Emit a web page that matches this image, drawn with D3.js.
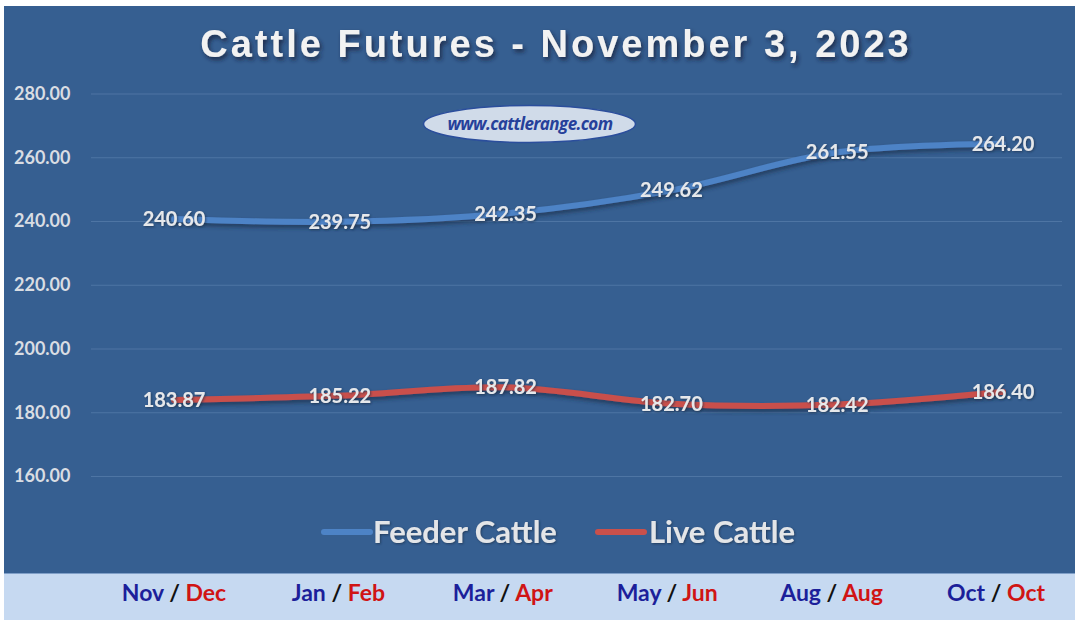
<!DOCTYPE html>
<html><head><meta charset="utf-8">
<script src="https://cdn.jsdelivr.net/npm/d3@7"></script>
<style>
html,body{margin:0;padding:0;background:#fff;}
svg{display:block;}
</style></head>
<body>
<svg id="chart" width="1078" height="620"></svg>
<script>
const categoriesA = ["Nov","Jan","Mar","May","Aug","Oct"];
const categoriesB = ["Dec","Feb","Apr","Jun","Aug","Oct"];
const feederCattle = [240.60, 239.75, 242.35, 249.62, 261.55, 264.20];
const liveCattle = [183.87, 185.22, 187.82, 182.70, 182.42, 186.40];
const yTicks = [160, 180, 200, 220, 240, 260, 280];
const title = "Cattle Futures - November 3, 2023";
const seriesNames = ["Feeder Cattle", "Live Cattle"];

const svg = d3.select("#chart");
const defs = svg.append("defs");
const sh = defs.append("filter").attr("id","lshadow").attr("x","-10%").attr("y","-50%").attr("width","120%").attr("height","200%");
sh.append("feDropShadow").attr("dx",1).attr("dy",3).attr("stdDeviation",2).attr("flood-color","#1a2e48").attr("flood-opacity",0.7);
const tsh = defs.append("filter").attr("id","tshadow").attr("x","-10%").attr("y","-30%").attr("width","120%").attr("height","160%");
tsh.append("feDropShadow").attr("dx",2).attr("dy",3).attr("stdDeviation",2).attr("flood-color","#14243a").attr("flood-opacity",0.8);
const dsh = defs.append("filter").attr("id","dshadow").attr("x","-10%").attr("y","-30%").attr("width","120%").attr("height","160%");
dsh.append("feDropShadow").attr("dx",1).attr("dy",1).attr("stdDeviation",1).attr("flood-color","#1a2e48").attr("flood-opacity",0.7);

// panels
svg.append("rect").attr("x",4).attr("y",6).attr("width",1071).attr("height",567).attr("fill","#365f91");
svg.append("rect").attr("x",4).attr("y",573).attr("width",1071).attr("height",47).attr("fill","#c6d9f1");
svg.append("line").attr("x1",4).attr("x2",1075).attr("y1",573.5).attr("y2",573.5).attr("stroke","#7f9fc8").attr("stroke-width",1);

const x = d3.scalePoint().domain(d3.range(categoriesA.length)).range([174, 1003]);
const y = d3.scaleLinear().domain([160, 280]).range([476, 93.5]);

// gridlines + y labels
const yAxis = d3.axisLeft(y).tickValues(yTicks).tickSize(-(1062-91)).tickFormat(d3.format(".2f")).tickPadding(18);
const gy = svg.append("g").attr("transform","translate(91,0)").call(yAxis);
gy.select(".domain").remove();
gy.selectAll(".tick line").attr("stroke","#4e75a4").attr("stroke-width",1.2);
gy.selectAll(".tick text").attr("fill","#d9dde3").attr("font-family","Lato, 'Open Sans', sans-serif")
  .attr("font-weight","bold").attr("font-size",18).attr("text-anchor","start").attr("x",-77);

// title
svg.append("text").attr("x",556).attr("y",57).attr("text-anchor","middle")
  .attr("font-family","'Liberation Sans', Arial, sans-serif").attr("font-weight","bold")
  .attr("font-size",38).attr("letter-spacing",3).attr("fill","#f2f2f2").attr("filter","url(#tshadow)")
  .text(title);

// watermark
svg.append("ellipse").attr("cx",529.5).attr("cy",124).attr("rx",106).attr("ry",18.5)
  .attr("fill","#d0dbe9").attr("stroke","#2b4e9c").attr("stroke-width",1.5);
svg.append("text").attr("x",530).attr("y",130).attr("text-anchor","middle")
  .attr("font-family","'Open Sans', Lato, sans-serif").attr("font-weight","bold").attr("font-style","italic")
  .attr("font-size",17).attr("fill","#26409a").attr("letter-spacing",-0.6).text("www.cattlerange.com");

// lines
const line = d3.line().x((d,i)=>x(i)).y(d=>y(d)).curve(d3.curveCatmullRom.alpha(0.5));
const series = [
  {name: seriesNames[0], values: feederCattle, color: "#4d83c6"},
  {name: seriesNames[1], values: liveCattle, color: "#c9504b"}
];
series.forEach(s => {
  svg.append("path").datum(s.values).attr("d", line).attr("fill","none")
    .attr("stroke", s.color).attr("stroke-width",6).attr("stroke-linecap","round").attr("filter","url(#lshadow)");
});
series.forEach(s => {
  svg.append("g").selectAll("text").data(s.values).join("text")
    .attr("x",(d,i)=>x(i)).attr("y",d=>y(d)+7).attr("text-anchor","middle")
    .attr("font-family","Lato, 'Open Sans', sans-serif").attr("font-weight","bold").attr("font-size",20)
    .attr("fill","#e6e8eb").attr("filter","url(#dshadow)")
    .text(d=>d3.format(".2f")(d));
});

// legend
const leg = svg.append("g");
const legItems = [{x:322, tx:373}, {x:596, tx:649}];
series.forEach((s,i) => {
  leg.append("line").attr("x1",legItems[i].x+2).attr("x2",legItems[i].x+48).attr("y1",532).attr("y2",532)
    .attr("stroke",s.color).attr("stroke-width",6).attr("stroke-linecap","round");
  leg.append("text").attr("x",legItems[i].tx).attr("y",543)
    .attr("font-family","Lato, 'Open Sans', sans-serif").attr("font-weight","bold").attr("font-size",31)
    .attr("fill","#e3e5e8").attr("filter","url(#dshadow)").text(s.name);
});

// x labels
const gx = svg.append("g");
const xl = d3.scalePoint().domain(d3.range(categoriesA.length)).range([174, 996]);
categoriesA.forEach((c,i) => {
  const t = gx.append("text").attr("x", xl(i)).attr("y",601).attr("text-anchor","middle")
    .attr("font-family","Lato, 'Open Sans', sans-serif").attr("font-weight","bold").attr("font-size",23);
  t.append("tspan").attr("fill","#1c1f9a").text(c);
  t.append("tspan").attr("fill","#111").text(" / ");
  t.append("tspan").attr("fill","#d01414").text(categoriesB[i]);
});
</script>
</body></html>
